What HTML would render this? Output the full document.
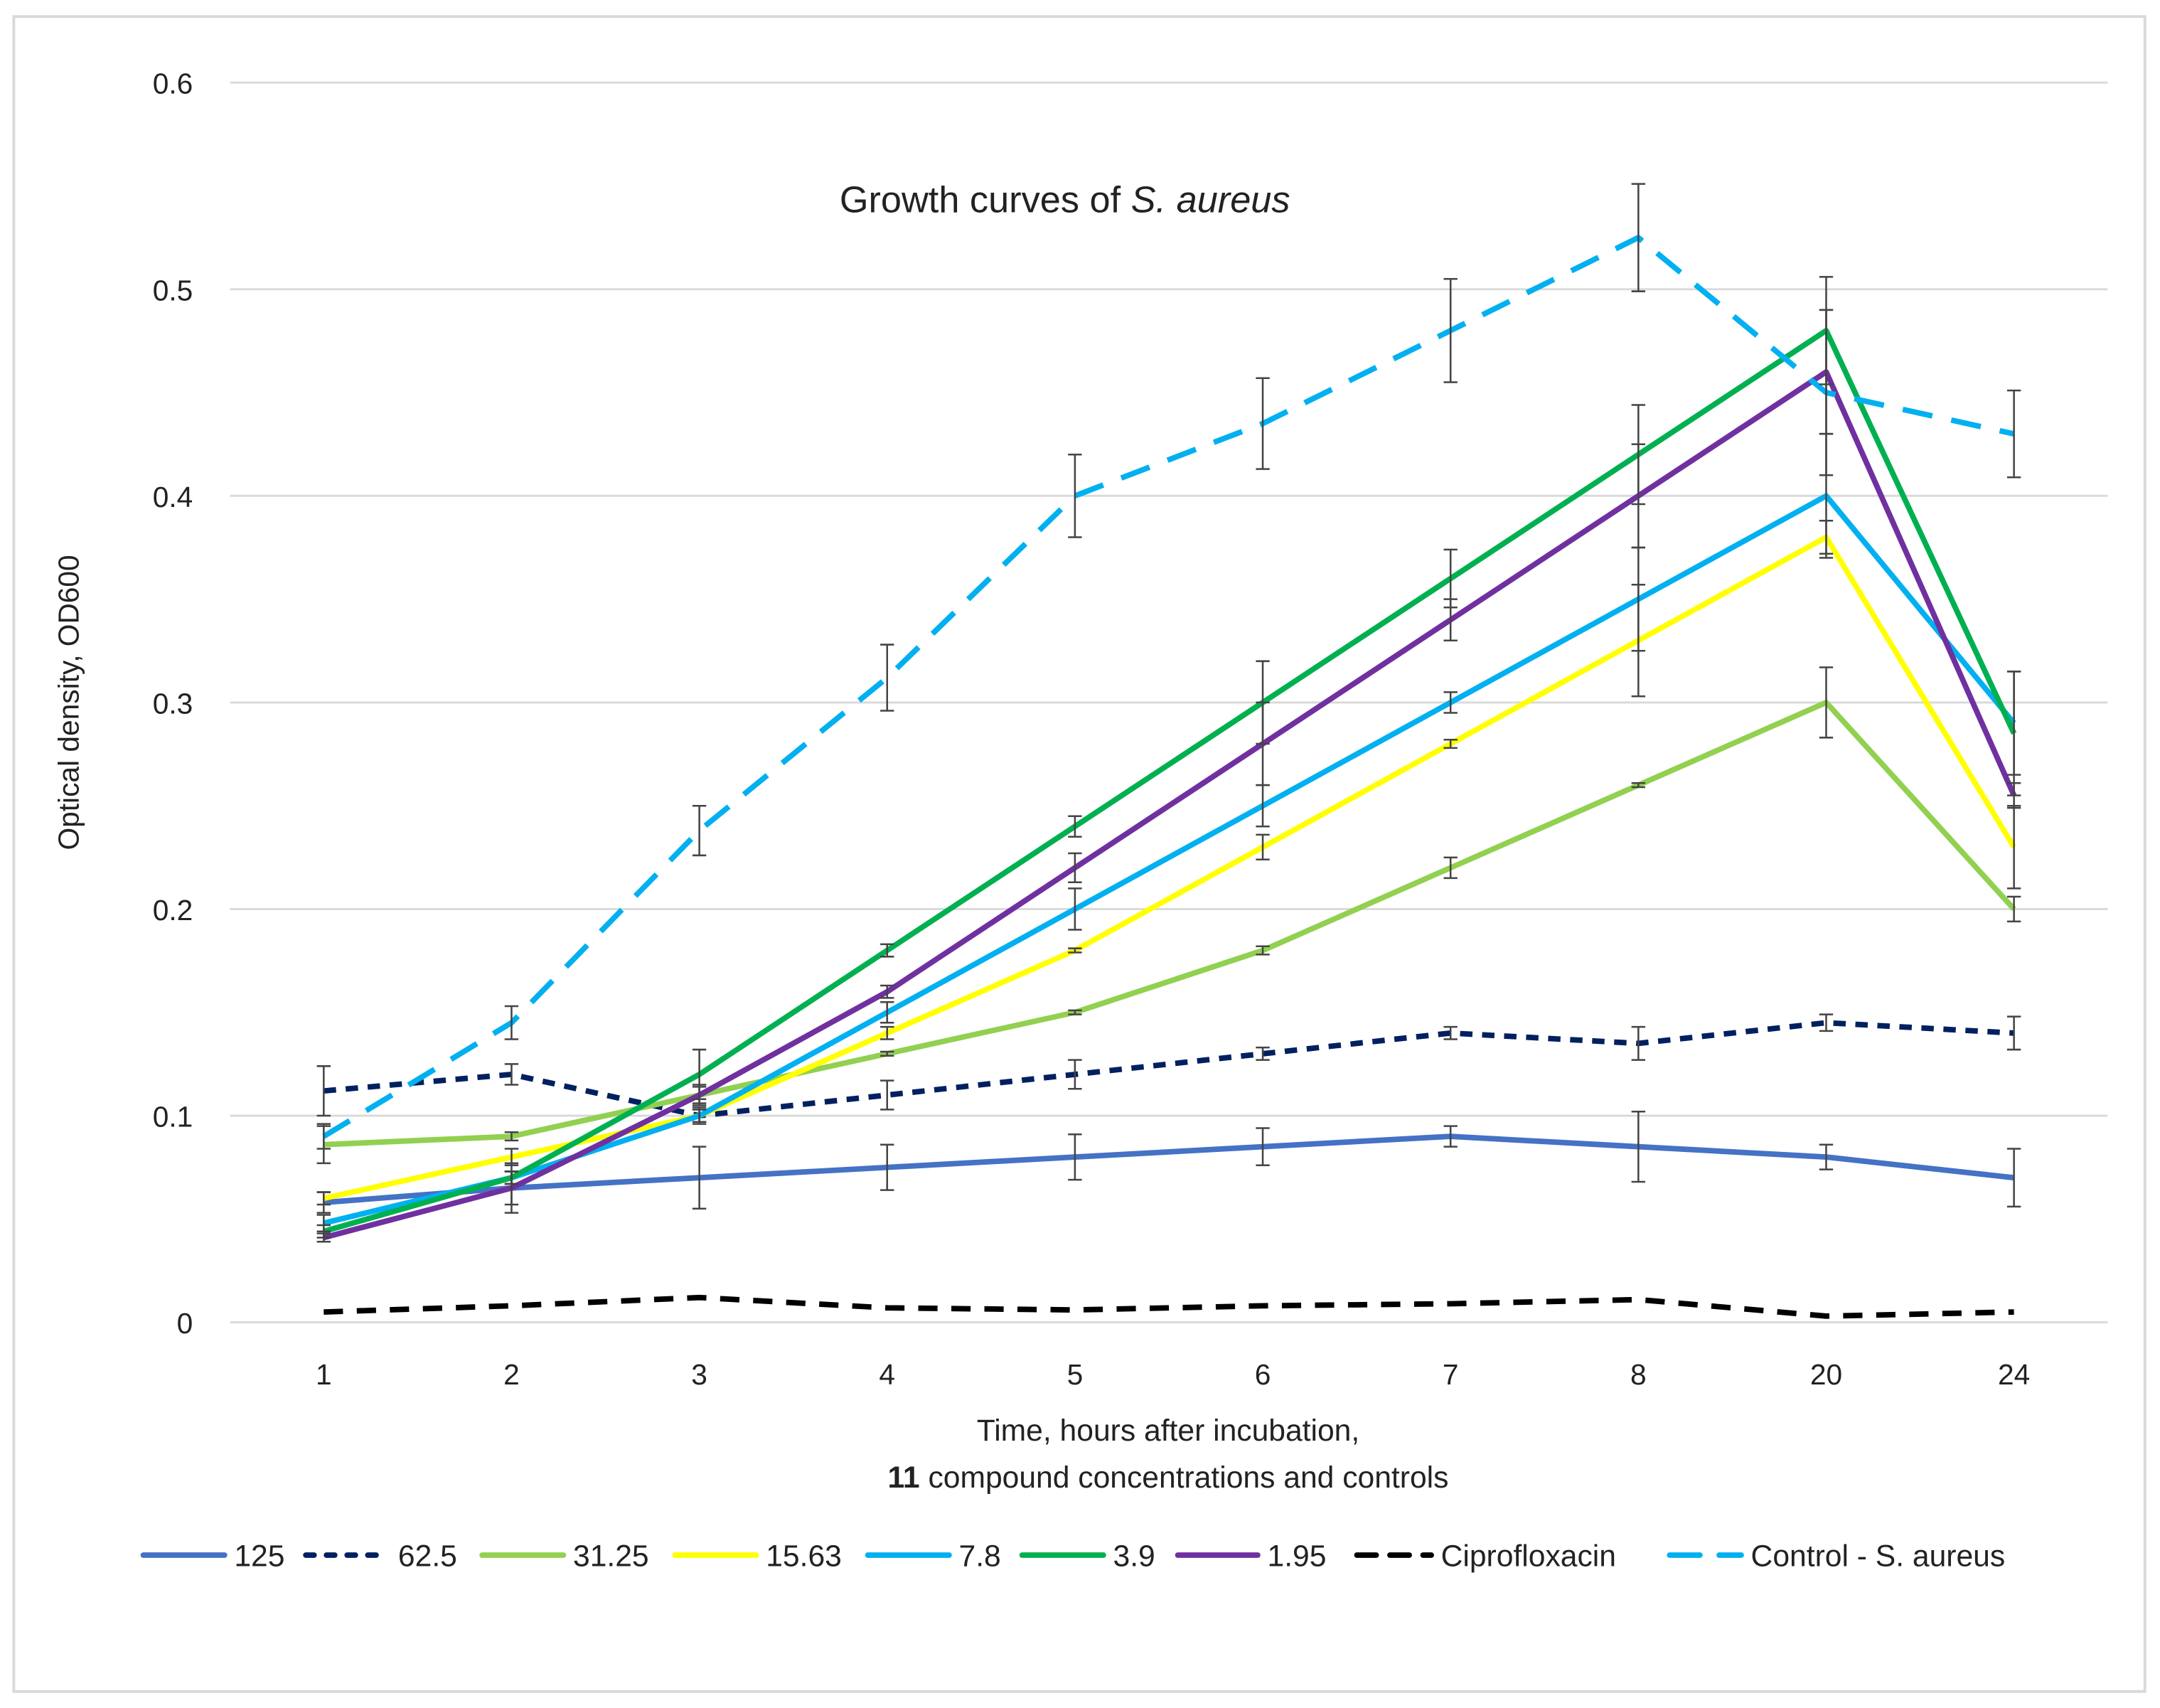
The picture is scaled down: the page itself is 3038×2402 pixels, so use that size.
<!DOCTYPE html>
<html><head><meta charset="utf-8"><style>
html,body{margin:0;padding:0;background:#fff}
svg{display:block}
text{font-family:"Liberation Sans",sans-serif;fill:#222}
</style></head><body>
<svg id="chart" width="3038" height="2402" viewBox="0 0 1568 1240" preserveAspectRatio="none" xmlns="http://www.w3.org/2000/svg">
<rect x="10" y="12" width="1547" height="1216" fill="#fff" stroke="#d9d9d9" stroke-width="2"/>
<g id="grid"></g>
<g id="yticks"></g>
<g id="xticks"></g>
<g id="series"></g>
<text x="773" y="154" text-anchor="middle" font-size="27">Growth curves of <tspan font-style="italic">S. aureus</tspan></text>
<text transform="translate(57,510) rotate(-90)" text-anchor="middle" font-size="21">Optical density, OD600</text>
<text x="848" y="1046" text-anchor="middle" font-size="22">Time, hours after incubation,</text>
<text x="848" y="1080" text-anchor="middle" font-size="22"><tspan font-weight="bold">11</tspan> compound concentrations and controls</text>
<g id="legend"></g>
</svg>
<script>
const categories = ["1","2","3","4","5","6","7","8","20","24"];
const yTicks = [0,0.1,0.2,0.3,0.4,0.5,0.6];
const seriesNames = ["125","62.5","31.25","15.63","7.8","3.9","1.95","Ciprofloxacin","Control - S. aureus"];
const v125 = [0.058,0.065,0.07,0.075,0.08,0.085,0.09,0.085,0.08,0.07];
const e125 = [0.005,0.008,0.015,0.011,0.011,0.009,0.005,0.017,0.006,0.014];
const v625 = [0.112,0.12,0.1,0.11,0.12,0.13,0.14,0.135,0.145,0.14];
const e625 = [0.012,0.005,0.003,0.007,0.007,0.003,0.003,0.008,0.004,0.008];
const v3125 = [0.086,0.09,0.11,0.13,0.15,0.18,0.22,0.26,0.30,0.20];
const e3125 = [0.009,0.002,0.005,0.001,0.001,0.002,0.005,0.001,0.017,0.006];
const v1563 = [0.06,0.08,0.10,0.14,0.18,0.23,0.28,0.33,0.38,0.23];
const e1563 = [0.003,0.004,0.004,0.003,0.001,0.006,0.002,0.027,0.008,0.02];
const v78 = [0.048,0.07,0.10,0.15,0.20,0.25,0.30,0.35,0.40,0.29];
const e78 = [0.004,0.003,0.003,0.005,0.01,0.01,0.005,0.025,0.03,0.025];
const v39 = [0.044,0.07,0.12,0.18,0.24,0.30,0.36,0.42,0.48,0.285];
const e39 = [0.003,0.003,0.012,0.003,0.005,0.02,0.014,0.024,0.026,0.03];
const v195 = [0.041,0.065,0.11,0.16,0.22,0.28,0.34,0.40,0.46,0.255];
const e195 = [0.002,0.012,0.004,0.003,0.007,0.02,0.01,0.025,0.03,0.006];
const vCipro = [0.005,0.008,0.012,0.007,0.006,0.008,0.009,0.011,0.003,0.005];
const vControl = [0.09,0.145,0.238,0.312,0.40,0.435,0.48,0.525,0.45,0.43];
const eControl = [0.006,0.008,0.012,0.016,0.02,0.022,0.025,0.026,0.04,0.021];

const NS="http://www.w3.org/2000/svg";
const X0=235, XSTEP=(1462-235)/9, Y0=960, YSCALE=1500;
function xPos(i){return X0+i*XSTEP;}
function yPos(v){return Y0-v*YSCALE;}
function mk(tag,attrs,parent){const e=document.createElementNS(NS,tag);for(const k in attrs)e.setAttribute(k,attrs[k]);parent.appendChild(e);return e;}

const grid=document.getElementById('grid'), yt=document.getElementById('yticks'), xt=document.getElementById('xticks');
yTicks.forEach(t=>{
  const l=mk('line',{x1:167,x2:1530,y1:yPos(t),y2:yPos(t),stroke:'#d9d9d9','stroke-width':1.5},grid);
  
  
  const tx=mk('text',{x:140,y:yPos(t)+8,'text-anchor':'end','font-size':21},yt);
  tx.textContent=t===0?'0':String(t);
  
  
});
categories.forEach((c,i)=>{
  const tx=mk('text',{x:xPos(i),y:1005,'text-anchor':'middle','font-size':21},xt);
  tx.textContent=c;
  
  
});

const defs=[
 {vals:v125,err:e125,color:'#4472C4',dash:null},
 {vals:v625,err:e625,color:'#002060',dash:'9 7'},
 {vals:v3125,err:e3125,color:'#92D050',dash:null},
 {vals:v1563,err:e1563,color:'#FFFF00',dash:null},
 {vals:v78,err:e78,color:'#00B0F0',dash:null},
 {vals:v39,err:e39,color:'#00B050',dash:null},
 {vals:v195,err:e195,color:'#7030A0',dash:null},
 {vals:vCipro,err:null,color:'#000000',dash:'14 10'},
 {vals:vControl,err:eControl,color:'#00B0F0',dash:'22 14'}
];
const sg=document.getElementById('series');
const errG=mk('g',{},sg);


defs.forEach((d,si)=>{
  const pts=d.vals.map((v,i)=>xPos(i).toFixed(1)+','+yPos(v).toFixed(1)).join(' ');
  const a={points:pts,fill:'none',stroke:d.color,'stroke-width':4,'stroke-linejoin':'round'};
  if(d.dash)a['stroke-dasharray']=d.dash;
  const pl=mk('polyline',a,sg);
  
  
  if(d.err){
    d.vals.forEach((v,i)=>{
      const x=xPos(i), t=yPos(v+d.err[i]), b=yPos(v-d.err[i]);
      const p=mk('path',{d:`M${x},${t}V${b}M${x-5},${t}H${x+5}M${x-5},${b}H${x+5}`,stroke:'#444','stroke-width':1.3,fill:'none'},errG);
      
      
    });
  }
});
sg.appendChild(errG);

const lg=document.getElementById('legend');
const legX=[[104,170],[222,289],[350,416],[490,556],[630,696],[742,808],[855,920],[985,1046],[1212,1271]];
defs.forEach((d,i)=>{
  const g=mk('g',{},lg);
  
  
  const a={x1:legX[i][0],x2:legX[i][1]-7,y1:1129,y2:1129,stroke:d.color,'stroke-width':4,'stroke-linecap':'round'};
  if(d.dash)a['stroke-dasharray']=d.dash==='9 7'?'6 9':d.dash;
  const ln=mk('line',a,g);
  
  
  const tx=mk('text',{x:legX[i][1],y:1137,'font-size':22},g);
  tx.textContent=seriesNames[i];
  
  
});
</script>
</body></html>
